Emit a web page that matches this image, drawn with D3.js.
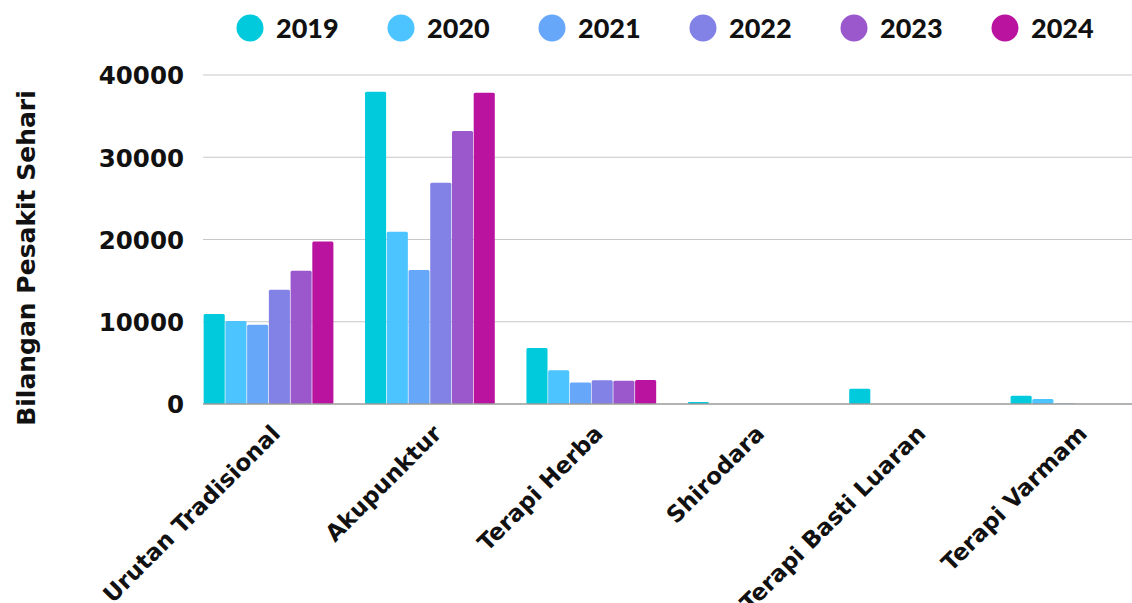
<!DOCTYPE html>
<html><head><meta charset="utf-8">
<script src="https://cdn.jsdelivr.net/npm/d3@7"></script>
<style>body{margin:0;background:#fff}svg{display:block}</style>
</head><body>
<svg id="c" width="1132" height="603"></svg>
<script>
const categories = ["Urutan Tradisional","Akupunktur","Terapi Herba","Shirodara","Terapi Basti Luaran","Terapi Varmam"];
const years = ["2019","2020","2021","2022","2023","2024"];
const colors = ["#00CADC","#4BC4FF","#67A7FA","#8181E6","#9B58CC","#BA13A0"];
const v2019 = [10950, 37950, 6800, 250, 1850, 1000];
const v2020 = [10100, 20950, 4100, 0, 0, 620];
const v2021 = [9650, 16300, 2600, 0, 0, 50];
const v2022 = [13900, 26900, 2880, 0, 0, 0];
const v2023 = [16200, 33200, 2820, 0, 0, 0];
const v2024 = [19750, 37850, 2930, 0, 0, 0];
const series = [v2019, v2020, v2021, v2022, v2023, v2024];
const yTicks = [0, 10000, 20000, 30000, 40000];

const svg = d3.select("#c");
const font = "'DejaVu Sans', sans-serif";
const lfont = "Lato, sans-serif";
const x0 = d3.scaleBand().domain(categories).range([203, 1141]).paddingInner(0.188).paddingOuter(0);
const x1 = d3.scaleBand().domain(years).range([0, x0.bandwidth()]).padding(0.03);
const y = d3.scaleLinear().domain([0, 40000]).range([404, 75]);

// grid
svg.append("g").selectAll("line").data(yTicks.filter(d=>d>0)).join("line")
  .attr("x1", 203).attr("x2", 1132).attr("y1", d=>y(d)).attr("y2", d=>y(d))
  .attr("stroke", "#c8c8c8").attr("stroke-width", 1.2);

// y axis
const ya = svg.append("g").attr("transform","translate(184,0)")
  .call(d3.axisLeft(y).tickValues(yTicks).tickSize(0).tickPadding(0).tickFormat(d3.format("d")));
ya.select(".domain").remove();
ya.selectAll("text").attr("font-family", font).attr("font-weight", "bold")
  .attr("font-size", 24.5).attr("fill", "#111").attr("dy", "0.36em");

// bars
const g = svg.append("g");
categories.forEach((c, ci) => {
  years.forEach((yr, si) => {
    const v = series[si][ci];
    if (v <= 0) return;
    g.append("rect")
      .attr("x", x0(c) + x1(yr)).attr("width", x1.bandwidth())
      .attr("y", y(v)).attr("height", y(0) - y(v))
      .attr("rx", 1.5).attr("fill", colors[si]);
  });
});

// baseline
svg.append("line").attr("x1", 203).attr("x2", 1132).attr("y1", y(0)).attr("y2", y(0))
  .attr("stroke", "#9a9a9a").attr("stroke-width", 1.5);

// x labels
const xa = svg.append("g").attr("transform", `translate(0,${y(0)})`)
  .call(d3.axisBottom(x0).tickSize(0).tickPadding(0));
xa.select(".domain").remove();
xa.selectAll("text")
  .attr("font-family", font).attr("font-weight", "bold").attr("font-size", 23).attr("fill", "#111")
  .attr("text-anchor", "end")
  .attr("transform", "translate(13,31) rotate(-45)")
  .attr("dy", "0");

// y title
svg.append("text").attr("transform", "translate(35,258) rotate(-90)")
  .attr("text-anchor", "middle").attr("font-family", font).attr("font-weight", "bold")
  .attr("font-size", 25).attr("fill", "#111").text("Bilangan Pesakit Sehari");

// legend
const lg = svg.append("g").selectAll("g").data(years).join("g")
  .attr("transform", (d, i) => `translate(${250 + i * 151},28)`);
lg.append("circle").attr("r", 13.5).attr("fill", (d, i) => colors[i]);
lg.append("text").attr("x", 26).attr("dy", "0.36em").attr("font-family", lfont)
  .attr("font-weight", 900).attr("font-size", 27).attr("fill", "#111").text(d => d);
</script>
</body></html>
